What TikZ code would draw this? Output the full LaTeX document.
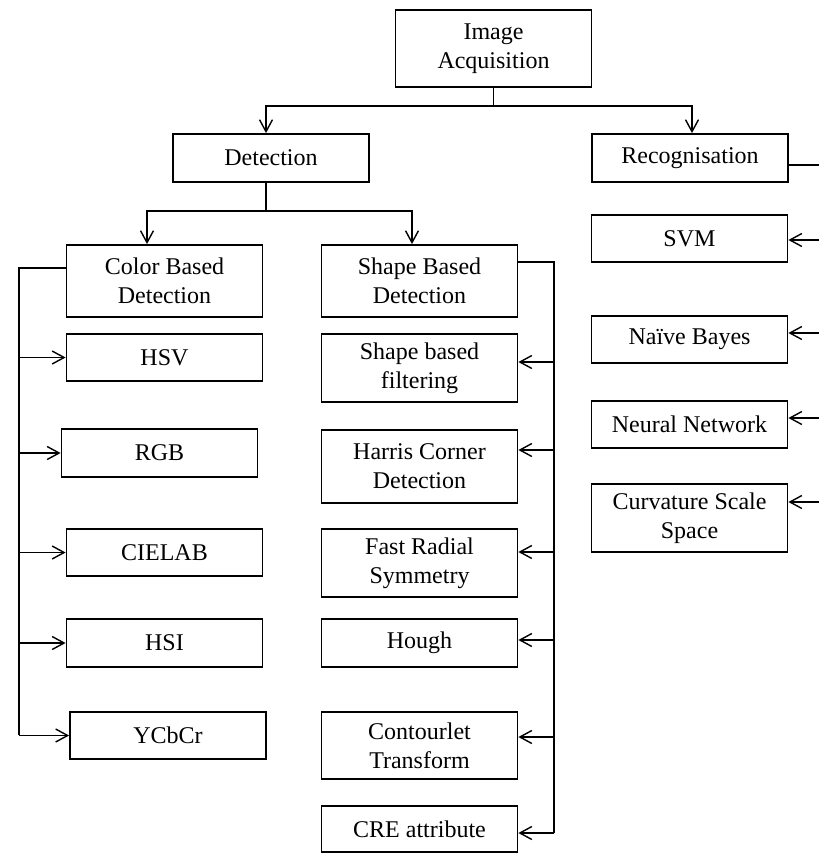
\documentclass[tikz,border=0pt]{standalone}
\usepackage{fontspec}
\setmainfont{Liberation Serif}
\usetikzlibrary{arrows.meta}

\begin{document}
\begin{tikzpicture}[x=0.5pt,y=-0.5pt,line width=0.7pt,
    blk/.style={draw,line width=0.9pt,minimum width=98pt,inner sep=0pt,align=center,
      font=\fontsize{12}{14.5}\selectfont},
    arr/.style={-{Straight Barb[length=6pt,width=6.5pt]}}]
      \useasboundingbox (0,0) rectangle (819,853);
      \clip (0,0) rectangle (819,853);
      % top levels
      \node[blk,minimum height=38.5pt] (ia) at (493.5,48.5) {Image\\Acquisition};
      \node[blk,minimum height=24pt] (det) at (271,158) {Detection};
      \node[blk,minimum height=24pt] (rec) at (690,158) {Recognisation};
      \node[blk,minimum height=36pt] (color) at (164.5,281) {Color Based\\Detection};
      \node[blk,minimum height=36pt] (shape) at (419.5,281) {Shape Based\\Detection};
      % color based methods
      \node[blk,minimum height=23.5pt] (hsv) at (164.5,357.5) {HSV};
      \node[blk,minimum height=24pt] (rgb) at (159.5,453) {RGB};
      \node[blk,minimum height=23.5pt] (cielab) at (164.5,552.5) {CIELAB};
      \node[blk,minimum height=24pt] (hsi) at (164.5,643) {HSI};
      \node[blk,minimum height=23.5pt] (ycbcr) at (168,735.5) {YCbCr};
      % shape based methods
      \node[blk,minimum height=34pt] (sbf) at (419.5,368) {Shape based\\filtering};
      \node[blk,minimum height=36.5pt] (harris) at (419.5,466.5) {Harris Corner\\Detection};
      \node[blk,minimum height=34pt] (frs) at (419.5,563) {Fast Radial\\Symmetry};
      \node[blk,minimum height=24pt] (hough) at (419.5,643) {Hough};
      \node[blk,minimum height=33.5pt] (contour) at (419.5,745.5) {Contourlet\\Transform};
      \node[blk,minimum height=23pt] (cre) at (419.5,829) {CRE attribute};
      % recognition methods
      \node[blk,minimum height=23.5pt] (svm) at (689.5,238.5) {SVM};
      \node[blk,minimum height=23.5pt] (nb) at (689.5,339.5) {Naïve Bayes};
      \node[blk,minimum height=23.5pt] (nn) at (689.5,424.5) {Neural Network};
      \node[blk,minimum height=34pt] (css) at (689.5,518) {Curvature Scale\\Space};
      % connectors
      \coordinate (t1) at (493.5,106);
      \draw (ia) -- (t1);
      \draw[arr] (t1) -| ([xshift=-2.5pt]det.north);
      \draw[arr] (t1) -| ([xshift=1pt]rec.north);
      \coordinate (t2) at (266,211);
      \draw ([xshift=-2.5pt]det.south) -- (t2);
      \draw[arr] (t2) -| ([xshift=-8.75pt]color.north);
      \draw[arr] (t2) -| ([xshift=-3.75pt]shape.north);
      \coordinate (lb) at (19,735);
      \draw ([yshift=6.5pt]color.west) -| (lb);
      \foreach \n in {hsv,rgb,cielab,hsi,ycbcr}
        \draw[arr] (lb |- \n) -- (\n);
      \coordinate (rb) at (554,833);
      \draw ([yshift=9.5pt]shape.east) -| (rb);
      \foreach \n/\y in {sbf/362,harris/450,frs/552,hough/640,contour/737,cre/833} {
        \coordinate (r-\n) at (554,\y);
        \draw[arr] (r-\n) -- (\n.east |- r-\n);
      }
      \coordinate (qb) at (826,502);
      \draw ([yshift=-3.5pt]rec.east) -| (qb);
      \foreach \n/\y in {svm/240,nb/333,nn/418,css/502} {
        \coordinate (q-\n) at (826,\y);
        \draw[arr] (q-\n) -- (\n.east |- q-\n);
      }
    \end{tikzpicture}
\end{document}
